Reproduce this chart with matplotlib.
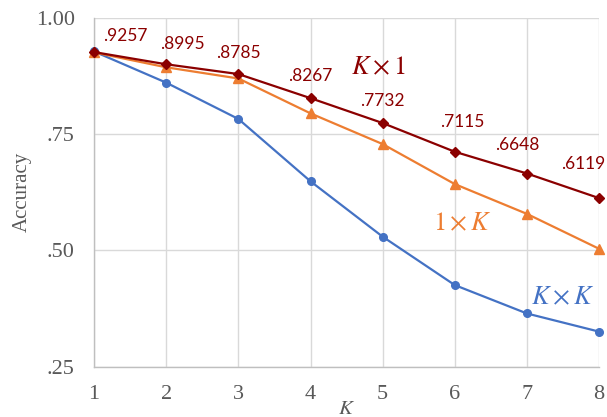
import numpy as np
import matplotlib.pyplot as plt

plt.rcParams['mathtext.fontset'] = 'stix'

k_values = [1, 2, 3, 4, 5, 6, 7, 8]
acc_kxk = [0.927, 0.860, 0.782, 0.648, 0.529, 0.425, 0.364, 0.325]
acc_1xk = [0.925, 0.893, 0.869, 0.794, 0.728, 0.642, 0.578, 0.503]
acc_kx1 = [0.9257, 0.8995, 0.8785, 0.8267, 0.7732, 0.7115, 0.6648, 0.6119]
kx1_labels = ['.9257', '.8995', '.8785', '.8267', '.7732', '.7115', '.6648', '.6119']
y_ticks = [0.25, 0.50, 0.75, 1.00]
y_tick_labels = ['.25', '.50', '.75', '1.00']

blue = '#4472C4'
orange = '#ED7D31'
darkred = '#8B0000'
gray_txt = '#595959'
grid_col = '#D9D9D9'

fig = plt.figure(figsize=(6.07, 4.17), dpi=100)
ax = fig.add_axes([0.155, 0.121, 0.832, 0.837])

ax.plot(k_values, acc_kxk, '-o', color=blue, lw=1.6, ms=5.5, clip_on=False, zorder=3)
ax.plot(k_values, acc_1xk, '-^', color=orange, lw=1.6, ms=6.5, clip_on=False, zorder=4)
ax.plot(k_values, acc_kx1, '-D', color=darkred, lw=1.6, ms=5, clip_on=False, zorder=5)

# data label offsets in pixels (dx, dy)
label_offsets = [(31, 16), (16, 20), (0, 21), (0, 22), (0, 22), (7, 30), (-10, 29), (-16, 34)]
for k, v, txt, off in zip(k_values, acc_kx1, kx1_labels, label_offsets):
    ax.annotate(txt, (k, v), xytext=off, textcoords='offset pixels',
                ha='center', va='center', color=darkred, fontsize=12.5,
                family='Lato', zorder=6)

ax.text(4.94, 0.892, r'$K\times1$', color=darkred, fontsize=19, ha='center', va='center')
ax.text(6.10, 0.558, r'$1\times K$', color=orange, fontsize=19, ha='center', va='center')
ax.text(7.49, 0.399, r'$K\times K$', color=blue, fontsize=19, ha='center', va='center')

ax.set_xlim(1, 8)
ax.set_ylim(0.25, 1.0)
ax.set_xticks(k_values)
ax.set_yticks(y_ticks)
ax.set_yticklabels(y_tick_labels)
ax.grid(True, color=grid_col, lw=1.0)
ax.set_axisbelow(True)
for s in ['top', 'right']:
    ax.spines[s].set_visible(False)
for s in ['left', 'bottom']:
    ax.spines[s].set_color('#BFBFBF')
    ax.spines[s].set_linewidth(1.0)
ax.tick_params(length=0, colors=gray_txt, labelsize=16)
ax.tick_params(axis='y', pad=14)
ax.tick_params(axis='x', pad=13)
for lab in ax.get_xticklabels() + ax.get_yticklabels():
    lab.set_family('Liberation Serif')

ax.set_ylabel('Accuracy', family='Liberation Serif', fontsize=15, color=gray_txt, labelpad=3)
ax.set_xlabel(r'$K$', fontsize=15, color=gray_txt, labelpad=-4)

fig.savefig('out.png', dpi=100)
